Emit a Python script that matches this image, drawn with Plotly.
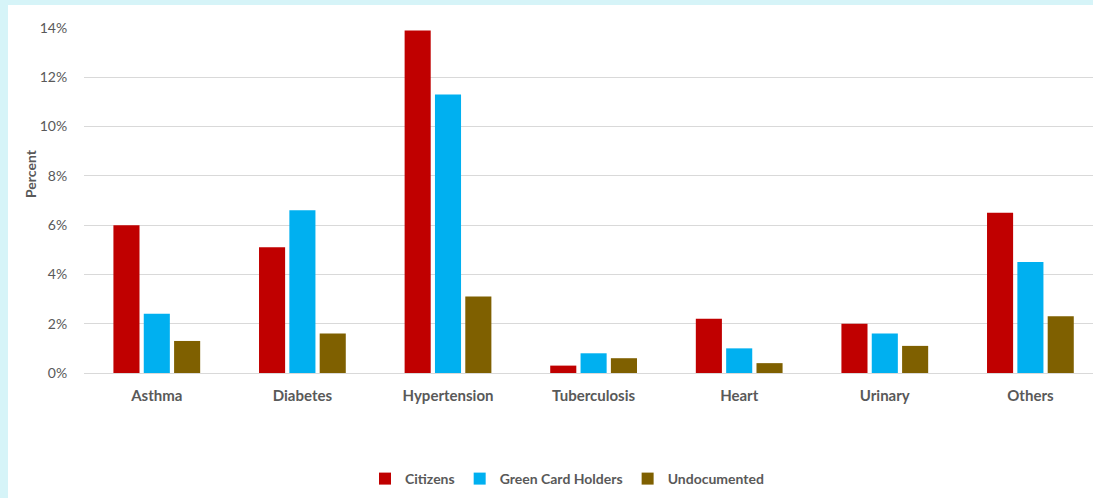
import plotly.graph_objects as go

categories = ["Asthma", "Diabetes", "Hypertension", "Tuberculosis", "Heart", "Urinary", "Others"]
citizens = [6.0, 5.1, 13.9, 0.3, 2.2, 2.0, 6.5]
green_card = [2.4, 6.6, 11.3, 0.8, 1.0, 1.6, 4.5]
undocumented = [1.3, 1.6, 3.1, 0.6, 0.4, 1.1, 2.3]
y_ticks = [0, 2, 4, 6, 8, 10, 12, 14]
y_tick_labels = [f"{v}%" for v in y_ticks]

series = [
    ("Citizens", citizens, "#C00000"),
    ("Green Card Holders", green_card, "#00B0F0"),
    ("Undocumented", undocumented, "#7F6000"),
]

W, H = 1093, 498
L, R, T, B = 84, 0, 28, 125
pw, ph = W - L - R, H - T - B

fig = go.Figure()
for name, vals, col in series:
    fig.add_trace(go.Bar(name=name, x=categories, y=vals, marker=dict(color=col, line=dict(width=0))))

def px_x(x):
    return (x - L) / pw

def px_y(y):
    return (H - B - y) / ph

FONT = "Lato, Open Sans, sans-serif"
CYAN = "#D6F4F8"

fig.update_layout(
    width=W, height=H,
    margin=dict(l=L, r=R, t=T, b=B),
    paper_bgcolor="white",
    plot_bgcolor="rgba(0,0,0,0)",
    barmode="group",
    bargap=0.375,
    bargroupgap=0.14,
    font=dict(family=FONT, color="#595959"),
    shapes=[
        dict(type="rect", xref="paper", yref="paper", layer="below",
             x0=px_x(-5), x1=px_x(8), y0=px_y(-5), y1=px_y(H + 5),
             fillcolor=CYAN, line=dict(width=0)),
        dict(type="rect", xref="paper", yref="paper", layer="below",
             x0=px_x(-5), x1=px_x(W + 5), y0=px_y(-5), y1=px_y(5),
             fillcolor=CYAN, line=dict(width=0)),
    ],
    xaxis=dict(
        range=[-0.5, pw / 145.6 - 0.5],
        showgrid=False, zeroline=False, showline=False,
        ticks="outside", ticklen=9, tickcolor="rgba(0,0,0,0)",
        tickfont=dict(size=15, color="#595959", family=FONT, weight="bold"),
    ),
    yaxis=dict(
        range=[0, 14],
        tickvals=y_ticks, ticktext=y_tick_labels,
        showgrid=True, gridcolor="#D9D9D9", gridwidth=1,
        zeroline=True, zerolinecolor="#D9D9D9", zerolinewidth=1,
        showline=False,
        ticks="outside", ticklen=13, tickcolor="rgba(0,0,0,0)",
        tickfont=dict(size=14, color="#595959"),
    ),
    annotations=[dict(text="Percent", xref="paper", yref="paper", x=px_x(30), y=px_y(174),
                      xanchor="center", yanchor="middle", textangle=-90, showarrow=False,
                      font=dict(size=14, color="#595959", weight="bold"))],
    legend=dict(
        orientation="h", x=px_x(567), xanchor="center", y=px_y(479), yanchor="middle",
        font=dict(size=14, color="#595959", weight="bold"),
        bgcolor="rgba(0,0,0,0)", itemwidth=30, traceorder="normal",
    ),
)

fig.write_html("out.html")
